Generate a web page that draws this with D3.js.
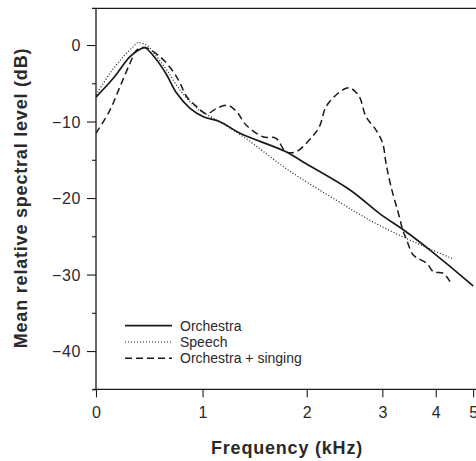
<!DOCTYPE html>
<html>
<head>
<meta charset="utf-8">
<script src="https://cdn.jsdelivr.net/npm/d3@7/dist/d3.min.js"></script>
<style>
  html, body { margin: 0; padding: 0; background: #fff; }
  svg { display: block; }
  text { font-family: "Liberation Sans", Arial, Helvetica, sans-serif; }
</style>
</head>
<body>
<svg id="chart" width="476" height="461"></svg>
<script>
// ---- Data (kHz, dB) ----
const xTicks = [0, 1, 2, 3, 4, 5];
const xTickFrac = [0, 0.2807, 0.5551, 0.7543, 0.8950, 0.9934]; // warped frequency axis (fraction of plot width)
const yTicks = [0, -10, -20, -30, -40];
const yMinorTicks = [-5, -15, -25, -35, -45];

const orchestraF = [0, 0.162, 0.319, 0.413, 0.46, 0.57, 0.664, 0.758, 0.883, 1.008, 1.168, 1.36, 1.801, 1.962, 2.573, 2.96, 3.444, 3.893, 4.92, 5.0];
const orchestraDB = [-6.8, -4.35, -1.53, -0.56, -0.35, -1.96, -3.92, -6.31, -8.27, -9.37, -10.02, -11.54, -13.95, -15.26, -18.95, -22.0, -24.4, -26.8, -31.15, -31.5];

const speechF = [0, 0.131, 0.256, 0.35, 0.39, 0.47, 0.57, 0.664, 0.789, 0.946, 1.104, 1.392, 1.823, 2.388, 2.829, 3.382, 3.89, 4.43];
const speechDB = [-6.5, -3.7, -1.53, -0.22, 0.3, 0.0, -1.53, -3.27, -5.88, -8.27, -9.58, -11.99, -16.34, -20.26, -22.87, -25.06, -26.66, -27.88];

const singingF = [0, 0.131, 0.225, 0.319, 0.382, 0.46, 0.601, 0.726, 0.789, 0.852, 0.946, 1.04, 1.136, 1.245, 1.328, 1.418, 1.578, 1.705, 1.801, 1.897, 2.034, 2.167, 2.255, 2.388, 2.52, 2.586, 2.696, 2.784, 2.917, 3.007, 3.069, 3.163, 3.318, 3.382, 3.457, 3.58, 3.831, 3.955, 4.204, 4.383];
const singingDB = [-11.54, -8.5, -5.45, -2.39, -0.65, -0.33, -1.53, -3.49, -5.0, -6.76, -8.06, -9.0, -8.27, -7.9, -8.72, -10.46, -11.99, -12.19, -13.95, -13.95, -12.42, -10.68, -8.06, -6.54, -5.66, -5.66, -6.76, -9.37, -11.11, -12.85, -15.46, -18.52, -22.44, -24.18, -25.49, -27.45, -28.53, -29.63, -29.84, -30.94];

const seriesNames = ["Orchestra", "Speech", "Orchestra + singing"];

// ---- Layout ----
const W = 476, H = 461;
const M = { left: 96, right: 0, top: 8.3, bottom: 71.7 };
const plotW = 379.6;
const plotBottom = H - M.bottom;

const svg = d3.select("#chart");

const x = d3.scaleLinear()
  .domain(xTicks)
  .range(xTickFrac.map(f => M.left + f * plotW));
const y = d3.scaleLinear().domain([-45, 4.8]).range([plotBottom, M.top]);

const ink = "#1a1a1a";
const txt = "#2a2a2a";

// top frame line
svg.append("line")
  .attr("x1", M.left - 4).attr("x2", W)
  .attr("y1", y.range()[1]).attr("y2", y.range()[1])
  .attr("stroke", ink).attr("stroke-width", 1.3);

// Y axis
const yAxis = svg.append("g").attr("transform", `translate(${M.left},0)`)
  .call(d3.axisLeft(y).tickValues(yTicks).tickSize(9).tickPadding(6).tickFormat(d3.format("d")));
yAxis.select(".domain").attr("stroke", ink).attr("stroke-width", 1.3)
  .attr("d", `M0,${y.range()[1]}V${plotBottom}`);
yAxis.selectAll(".tick line").attr("stroke", ink).attr("stroke-width", 1.1);
yAxis.selectAll(".tick text").attr("font-size", 16).attr("fill", txt)
  .attr("letter-spacing", "0.6px").attr("dy", "0.36em");

const yMinor = svg.append("g").attr("transform", `translate(${M.left},0)`)
  .call(d3.axisLeft(y).tickValues(yMinorTicks).tickSize(4).tickFormat(""));
yMinor.select(".domain").remove();
yMinor.selectAll(".tick line").attr("stroke", ink).attr("stroke-width", 1.1);

// X axis
const xAxis = svg.append("g").attr("transform", `translate(0,${plotBottom})`)
  .call(d3.axisBottom(x).tickValues(xTicks).tickSize(8).tickPadding(6).tickFormat(d3.format("d")));
xAxis.select(".domain").attr("stroke", ink).attr("stroke-width", 1.3)
  .attr("d", `M${M.left - 3},0H${W}`);
xAxis.selectAll(".tick line").attr("stroke", ink).attr("stroke-width", 1.1);
xAxis.selectAll(".tick text").attr("font-size", 16).attr("fill", txt).attr("dy", "0.9em");

// Axis titles
svg.append("text")
  .attr("x", 287).attr("y", 454)
  .attr("text-anchor", "middle")
  .attr("font-size", 18).attr("font-weight", "bold").attr("fill", txt)
  .attr("letter-spacing", "0.8px")
  .text("Frequency (kHz)");

svg.append("text")
  .attr("transform", "translate(27,198) rotate(-90)")
  .attr("text-anchor", "middle")
  .attr("font-size", 18).attr("font-weight", "bold").attr("fill", txt)
  .attr("letter-spacing", "0.8px")
  .text("Mean relative spectral level (dB)");

// Lines
const line = d3.line().x(d => x(d[0])).y(d => y(d[1])).curve(d3.curveCatmullRom.alpha(0.5));
const styles = [
  { w: 1.7, dash: null },
  { w: 1.2, dash: "1,2" },
  { w: 1.5, dash: "7,4" }
];
const series = [
  d3.zip(orchestraF, orchestraDB),
  d3.zip(speechF, speechDB),
  d3.zip(singingF, singingDB)
];

svg.append("defs").append("clipPath").attr("id", "clip")
  .append("rect").attr("x", M.left).attr("y", M.top).attr("width", W - M.left).attr("height", plotBottom - M.top);

const g = svg.append("g").attr("clip-path", "url(#clip)");
series.forEach((s, i) => {
  g.append("path")
    .attr("d", line(s))
    .attr("fill", "none")
    .attr("stroke", ink)
    .attr("stroke-width", styles[i].w)
    .attr("stroke-dasharray", styles[i].dash)
    .attr("stroke-linejoin", "round");
});

// Legend
const legend = svg.append("g").attr("transform", "translate(125,325.7)");
seriesNames.forEach((name, i) => {
  const row = legend.append("g").attr("transform", `translate(0,${i * 16.3})`);
  row.append("line")
    .attr("x1", 0).attr("x2", 47).attr("y1", 0).attr("y2", 0)
    .attr("stroke", ink)
    .attr("stroke-width", styles[i].w)
    .attr("stroke-dasharray", styles[i].dash);
  row.append("text")
    .attr("x", 55).attr("y", 4.8)
    .attr("font-size", 14).attr("fill", txt)
    .text(name);
});
</script>
</body>
</html>
